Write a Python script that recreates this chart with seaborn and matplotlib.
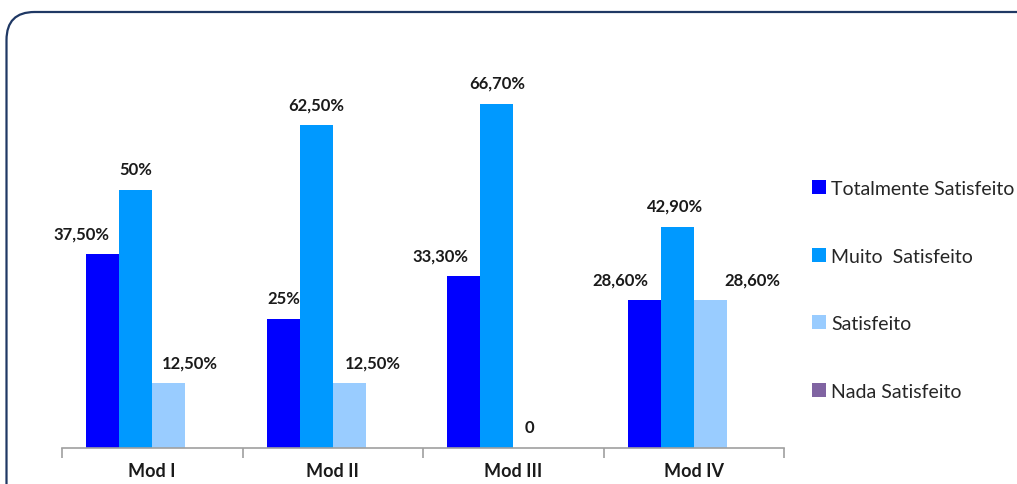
import matplotlib
matplotlib.use('Agg')
import matplotlib.pyplot as plt
from matplotlib.patches import FancyBboxPatch
import numpy as np
import pandas as pd
import seaborn as sns

# chart data
modules = ['Mod I', 'Mod II', 'Mod III', 'Mod IV']
series = ['Totalmente Satisfeito', 'Muito  Satisfeito', 'Satisfeito', 'Nada Satisfeito']
totalmente = [37.5, 25.0, 33.3, 28.6]
muito = [50.0, 62.5, 66.7, 42.9]
satisfeito = [12.5, 12.5, 0.0, 28.6]
nada = [0.0, 0.0, 0.0, 0.0]

labels_totalmente = ['37,50%', '25%', '33,30%', '28,60%']
labels_muito = ['50%', '62,50%', '66,70%', '42,90%']
labels_satisfeito = ['12,50%', '12,50%', '0', '28,60%']
labels_nada = ['', '', '', '']

colors = ['#0000FF', '#0099FF', '#99CCFF', '#8064A2']

rows = []
for name, vals in zip(series, [totalmente, muito, satisfeito, nada]):
    for m, v in zip(modules, vals):
        rows.append({'Modulo': m, 'Serie': name, 'Valor': v})
df = pd.DataFrame(rows)

sns.set_style('white')
plt.rcParams['font.family'] = ['Lato', 'DejaVu Sans']

fig = plt.figure(figsize=(10.17, 4.85), dpi=100)
ax = fig.add_axes([62 / 1017, 36 / 485, (784 - 62) / 1017, (449 - 36) / 485])

sns.barplot(data=df, x='Modulo', y='Valor', hue='Serie', order=modules,
            hue_order=series, palette=colors, width=0.73, gap=0,
            saturation=1, edgecolor='none', ax=ax)

ax.set_ylim(0, 80)
ax.set_xlim(-0.5, len(modules) - 0.5)
ax.set_xlabel('')
ax.set_ylabel('')
ax.set_yticks([])
for s in ['top', 'right', 'left']:
    ax.spines[s].set_visible(False)
ax.spines['bottom'].set_color('#A0A0A0')
ax.spines['bottom'].set_linewidth(1.2)

# category boundary ticks like Excel
ax.set_xticks(np.arange(-0.5, len(modules)), minor=True)
ax.tick_params(axis='x', which='minor', bottom=True, length=7, color='#A0A0A0',
               width=1.2, direction='out')
ax.tick_params(axis='x', which='major', length=0, pad=10)
for t in ax.get_xticklabels():
    t.set_fontweight('bold')
    t.set_fontsize(13)
    t.set_color('#1a1a1a')

# value labels (horizontal shifts in pixels as in the original)
all_labels = [labels_totalmente, labels_muito, labels_satisfeito, labels_nada]
shifts = [[-21, 0, -23, -24], [0, 0, 0, -2], [21, 24, 0, 42], [0, 0, 0, 0]]
for cont, labs, sh in zip(ax.containers, all_labels, shifts):
    for bar, lab, dx in zip(cont, labs, sh):
        if not lab:
            continue
        xc = bar.get_x() + bar.get_width() / 2
        ax.annotate(lab, (xc, bar.get_height()), xytext=(dx, 21),
                    textcoords='offset pixels', ha='center', va='center',
                    fontsize=12, fontweight='bold', color='#1a1a1a')

handles, names = ax.get_legend_handles_labels()
ax.get_legend().remove()
fig.legend(handles, names, loc='upper left', bbox_to_anchor=(812 / 1017, 1 - 181 / 485),
           frameon=False, fontsize=14, handlelength=0.72, handleheight=0.72,
           handletextpad=0.25, labelspacing=2.6, borderpad=0, borderaxespad=0)

# rounded frame around the chart area
frame = FancyBboxPatch((0.065, -0.5), 10.6, (485 - 13) / 100 + 0.5,
                       boxstyle='round,pad=0,rounding_size=0.28',
                       transform=fig.dpi_scale_trans, fill=False,
                       edgecolor='#1F3864', linewidth=1.6)
fig.patches.append(frame)

fig.savefig('out.png', dpi=100)
plt.close(fig)
